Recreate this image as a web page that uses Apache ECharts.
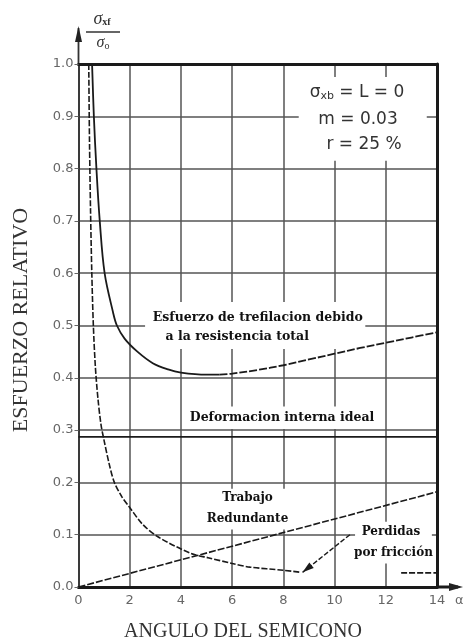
<!DOCTYPE html>
<html>
<head>
<meta charset="utf-8">
<script src="https://cdn.jsdelivr.net/npm/echarts@6/dist/echarts.min.js"></script>
<style>
  html, body { margin: 0; padding: 0; background: #fff; }
  #chart { width: 463px; height: 643px; }
</style>
</head>
<body>
<div id="chart"></div>
<script>
// Semicone angle ticks and relative stress ticks
const angleTicks = [0, 2, 4, 6, 8, 10, 12, 14];
const stressTickLabels = ['0.0', '0.1', '0.2', '0.3', '0.4', '0.5', '0.6', '0.7', '0.8', '0.9', '1.0'];

// Total drawing stress (esfuerzo de trefilación debido a la resistencia total)
const totalAngle  = [0.53, 0.60, 0.70, 0.83, 1.02, 1.35, 1.50, 1.80, 2.30, 2.90, 3.50, 4.00, 5.00, 5.50, 6.00, 7.00, 8.00, 9.00, 10.0, 11.0, 12.0, 13.0, 14.0];
const totalStress = [1.00, 0.90, 0.80, 0.70, 0.60, 0.525, 0.50, 0.475, 0.45, 0.428, 0.416, 0.410, 0.406, 0.406, 0.408, 0.415, 0.424, 0.435, 0.446, 0.457, 0.467, 0.477, 0.487];
const totalDashedFrom = 5.5;

// Redundant work (trabajo redundante); null leaves the gap in the curve
const redundantAngle  = [0.40, 0.43, 0.47, 0.52, 0.58, 0.66, 0.76, 0.88, 1.00, 1.20, 1.40, 1.70, 2.00, 2.50, 3.10, 4.40, 5.06, 6.00, 6.70, 8.00, 8.70, 10.6, 12.6, 14.0];
const redundantStress = [1.00, 0.85, 0.72, 0.60, 0.50, 0.42, 0.36, 0.31, 0.28, 0.235, 0.20, 0.172, 0.152, 0.12, 0.096, 0.064, 0.056, 0.045, 0.038, 0.032, 0.028, null, 0.027, 0.027];

// Friction losses (pérdidas por fricción)
const frictionAngle  = [0, 14];
const frictionStress = [0, 0.182];

// Ideal internal deformation (deformación interna ideal)
const idealAngle  = [0, 14];
const idealStress = [0.287, 0.287];

const toPairs = (xs, ys) => xs.map((x, i) => [x, ys[i]]);
const totalPairs = toPairs(totalAngle, totalStress);
const totalSolid = totalPairs.filter(p => p[0] <= totalDashedFrom);
const totalDashed = totalPairs.filter(p => p[0] >= totalDashedFrom);
const redundantPairs = redundantAngle.map((x, i) => redundantStress[i] === null ? ['-', '-'] : [x, redundantStress[i]]);

const ink = '#1a1a1a';
const grey = '#555';
const serif = '"Liberation Serif", "DejaVu Serif", serif';
const boldSerif = '"DejaVu Serif", "Liberation Serif", serif';
const sans = '"DejaVu Sans", "Liberation Sans", sans-serif';

const chart = echarts.init(document.getElementById('chart'));

const option = {
  backgroundColor: '#fff',
  animation: false,
  grid: { left: 78.5, right: 26, top: 64, bottom: 56 },
  xAxis: [{
    type: 'value', min: 0, max: 14, interval: 2,
    axisLine: { show: true, lineStyle: { color: ink, width: 3 } },
    axisTick: { show: false },
    axisLabel: { color: '#666', fontFamily: sans, fontSize: 13, margin: 7,
      formatter: v => angleTicks.includes(v) ? String(v) : '' },
    splitLine: { show: true, lineStyle: { color: grey, width: 1.5 } }
  }, {
    type: 'value', min: 0, max: 14, position: 'top',
    axisLine: { show: true, onZero: false, lineStyle: { color: ink, width: 3 } },
    axisTick: { show: false }, axisLabel: { show: false }, splitLine: { show: false }
  }],
  yAxis: [{
    type: 'value', min: 0, max: 1, interval: 0.1,
    axisLine: { show: true, lineStyle: { color: '#333', width: 1.8 } },
    axisTick: { show: true, length: 4, lineStyle: { color: '#666' } },
    axisLabel: { color: '#666', fontFamily: sans, fontSize: 13, margin: 5,
      formatter: v => stressTickLabels[Math.round(v * 10)] },
    splitLine: { show: true, lineStyle: { color: grey, width: 1.5 } }
  }, {
    type: 'value', min: 0, max: 1, position: 'right',
    axisLine: { show: true, onZero: false, lineStyle: { color: ink, width: 3 } },
    axisTick: { show: false }, axisLabel: { show: false }, splitLine: { show: false }
  }],
  series: [
    { name: 'ideal', type: 'line', data: toPairs(idealAngle, idealStress), symbol: 'none',
      lineStyle: { color: ink, width: 1.6 } },
    { name: 'friccion', type: 'line', data: toPairs(frictionAngle, frictionStress), symbol: 'none',
      lineStyle: { color: ink, width: 1.6, type: [7, 2] } },
    { name: 'redundante', type: 'line', data: redundantPairs, symbol: 'none', smooth: 0.3,
      connectNulls: false,
      lineStyle: { color: ink, width: 1.6, type: [6, 2] } },
    { name: 'total', type: 'line', data: totalSolid, symbol: 'none', smooth: 0.35,
      lineStyle: { color: ink, width: 1.8 } },
    { name: 'total-b', type: 'line', data: totalDashed, symbol: 'none', smooth: 0.35,
      lineStyle: { color: ink, width: 1.8, type: [8, 2] } }
  ]
};
chart.setOption(option);

// Annotations placed through the axis scales
const px = (x, y) => chart.convertToPixel({ gridIndex: 0 }, [x, y]);
const yTop = px(0, 1), xEnd = px(14, 0);

const plotText = (x, y, text, size) => ({
  type: 'text', x: px(x, y)[0], y: px(x, y)[1], z: 50,
  style: { text, fill: '#111', font: 'bold ' + (size || 12) + 'px ' + boldSerif,
    align: 'center', verticalAlign: 'middle' }
});

// white panels that keep the grid clear behind the labels
const clearBox = (x0, y0, x1, y1) => {
  const a = px(x0, y1), b = px(x1, y0);
  return { type: 'rect', z: 1, shape: { x: a[0], y: a[1], width: b[0] - a[0], height: b[1] - a[1] },
    style: { fill: '#fff' } };
};

const arrowFrom = px(10.6, 0.1), arrowTo = px(8.75, 0.028);
const ang = Math.atan2(arrowTo[1] - arrowFrom[1], arrowTo[0] - arrowFrom[0]);
const head = (len, da) => [arrowTo[0] - len * Math.cos(ang + da), arrowTo[1] - len * Math.sin(ang + da)];

chart.setOption({
  graphic: [
    clearBox(2.6, 0.455, 11.2, 0.545),
    clearBox(4.3, 0.302, 11.8, 0.345),
    clearBox(5.25, 0.11, 8.35, 0.188),
    clearBox(10.8, 0.045, 13.8, 0.125),
    clearBox(8.6, 0.815, 13.6, 0.975),
    // vertical axis arrow
    { type: 'line', shape: { x1: yTop[0], y1: yTop[1], x2: yTop[0], y2: 28 }, style: { stroke: '#333', lineWidth: 1.8 } },
    { type: 'polygon', shape: { points: [[yTop[0], 26], [yTop[0] - 3.5, 42], [yTop[0] + 3.5, 42]] }, style: { fill: '#222' } },
    // horizontal axis arrow
    { type: 'line', shape: { x1: xEnd[0], y1: xEnd[1], x2: 458, y2: xEnd[1] }, style: { stroke: ink, lineWidth: 3 } },
    { type: 'polygon', shape: { points: [[463, xEnd[1]], [449, xEnd[1] - 4], [449, xEnd[1] + 4]] }, style: { fill: '#222' } },
    { type: 'text', x: 455, y: 601, style: { text: 'α', fill: '#666', font: '13px ' + sans, verticalAlign: 'middle' } },
    // y quantity as a fraction
    { type: 'text', x: 102, y: 19, style: { text: '{s|σ}{b|xf}', align: 'center', verticalAlign: 'middle',
        rich: { s: { fontFamily: serif, fontSize: 18, fontStyle: 'italic', fill: '#333' },
                b: { fontFamily: serif, fontSize: 10, fontWeight: 'bold', fill: '#333', padding: [7, 0, 0, 0] } } } },
    { type: 'line', shape: { x1: 86, y1: 32, x2: 120, y2: 32 }, style: { stroke: '#333', lineWidth: 1.6 } },
    { type: 'text', x: 103, y: 43, style: { text: '{s|σ}{b|o}', align: 'center', verticalAlign: 'middle',
        rich: { s: { fontFamily: serif, fontSize: 16, fontStyle: 'italic', fill: '#333' },
                b: { fontFamily: serif, fontSize: 10, fill: '#333', padding: [7, 0, 0, 0] } } } },
    // axis titles
    { type: 'text', x: 21, y: 320, rotation: Math.PI / 2, style: { text: 'ESFUERZO RELATIVO', fill: '#333',
        font: '22px ' + serif, align: 'center', verticalAlign: 'middle' } },
    { type: 'text', x: 243, y: 632, style: { text: 'ANGULO DEL SEMICONO', fill: '#333',
        font: '20px ' + serif, align: 'center', verticalAlign: 'middle' } },
    // drawing parameters
    { type: 'text', x: 357, y: 93, z: 50, style: { text: '{s|σ}{b|xb}{t| = L = 0}', align: 'center', verticalAlign: 'middle',
        rich: { s: { fontFamily: sans, fontSize: 17, fill: '#333' },
                b: { fontFamily: sans, fontSize: 11, fill: '#333', padding: [6, 0, 0, 0] },
                t: { fontFamily: sans, fontSize: 17, fill: '#333' } } } },
    { type: 'text', x: 358, y: 120, z: 50, style: { text: 'm = 0.03', fill: '#333', font: '17px ' + sans,
        align: 'center', verticalAlign: 'middle' } },
    { type: 'text', x: 364, y: 145, z: 50, style: { text: 'r = 25 %', fill: '#333', font: '17px ' + sans,
        align: 'center', verticalAlign: 'middle' } },
    // curve labels
    plotText(7.0, 0.515, 'Esfuerzo de trefilacion debido', 12.5),
    plotText(6.2, 0.478, 'a la resistencia total', 12.5),
    plotText(7.95, 0.323, 'Deformacion interna ideal', 12.5),
    plotText(6.6, 0.17, 'Trabajo'),
    plotText(6.6, 0.13, 'Redundante'),
    plotText(12.2, 0.105, 'Perdidas'),
    plotText(12.3, 0.065, 'por fricción'),
    // pointer from the friction label
    { type: 'line', z: 60, shape: { x1: arrowFrom[0], y1: arrowFrom[1], x2: arrowTo[0], y2: arrowTo[1] },
      style: { stroke: ink, lineWidth: 1.4, lineDash: [5, 2] } },
    { type: 'polygon', z: 60, shape: { points: [arrowTo, head(12, 0.3), head(12, -0.3)] }, style: { fill: ink } }
  ]
});
</script>
</body>
</html>
